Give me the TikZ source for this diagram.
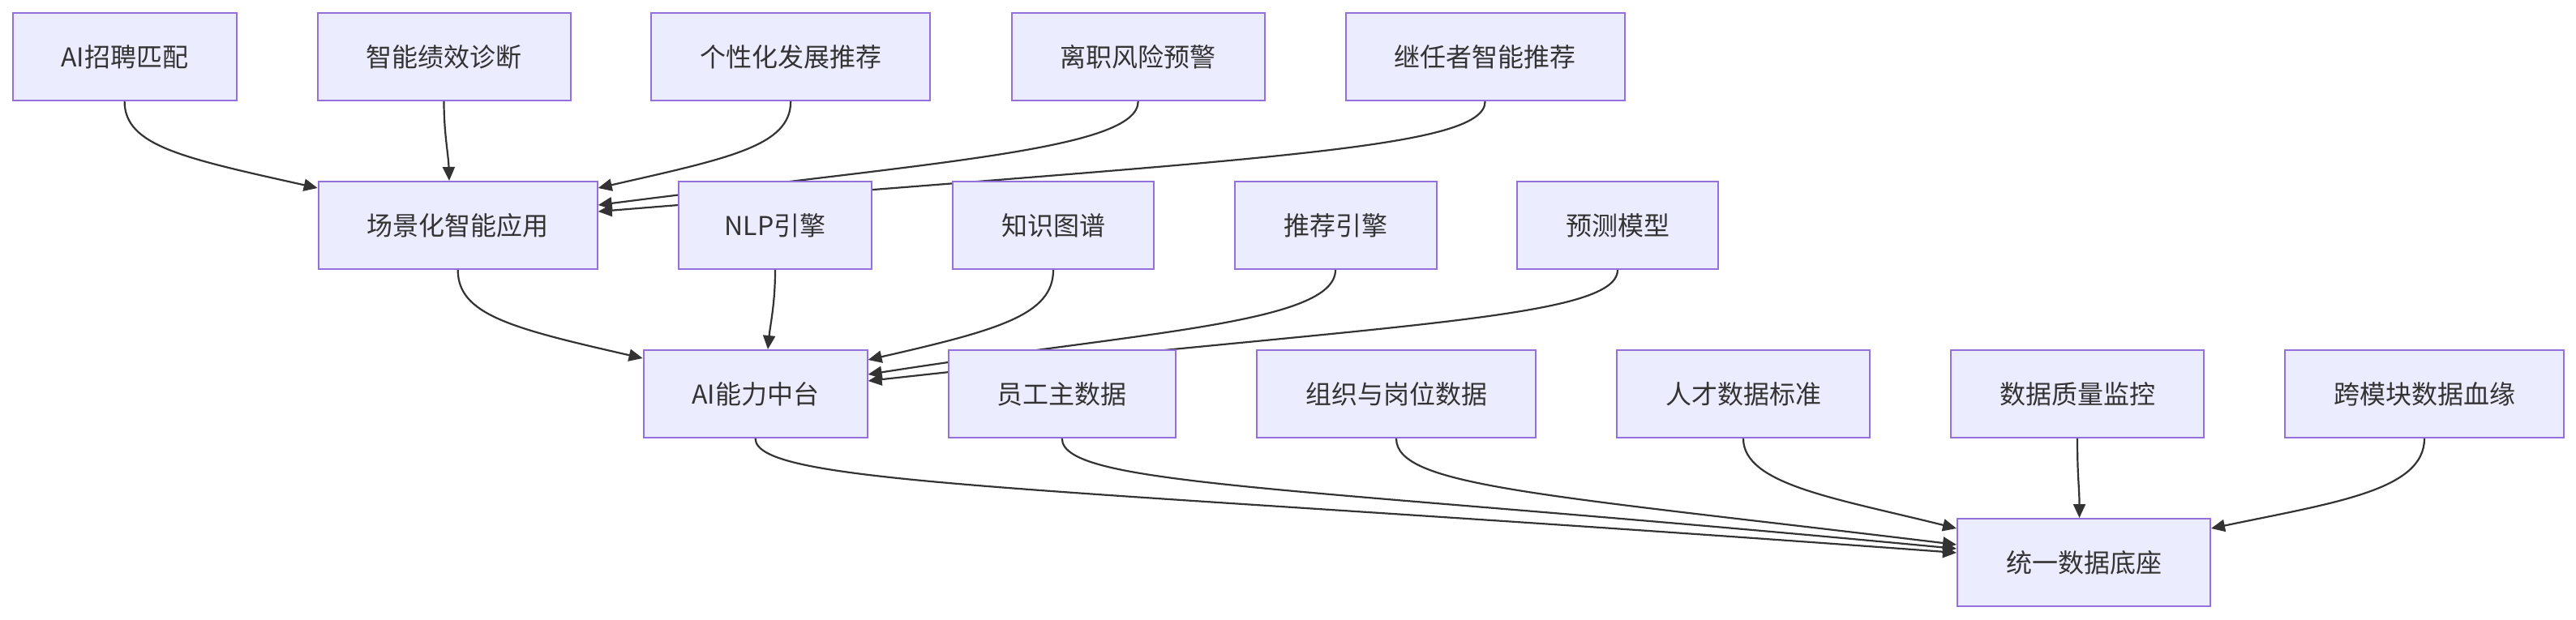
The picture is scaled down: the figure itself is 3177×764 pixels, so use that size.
\documentclass[tikz,border=0pt]{standalone}
\usepackage{fontspec}
\setmainfont{Noto Sans CJK SC}
\usetikzlibrary{arrows.meta,calc}
\definecolor{nodefill}{HTML}{ECECFF}
\definecolor{nodeborder}{HTML}{9370DB}
\definecolor{edgecol}{HTML}{333333}
\definecolor{textcol}{HTML}{333333}
\pgfdeclarelayer{edgelayer}
\pgfsetlayers{edgelayer,main}
\tikzset{
  box/.style={draw=nodeborder, fill=nodefill, line width=2pt, minimum height=108pt,
    inner sep=0pt, text=textcol, font=\fontsize{32pt}{38pt}\selectfont},
  link/.style={draw=edgecol, line width=2.2pt, -{Triangle[length=17pt,width=15pt]}}
}
\begin{document}
\begin{tikzpicture}[x=1pt,y=-1pt]
\useasboundingbox (0,0) rectangle (3177,764);
% row 1
\node[box, minimum width=276pt] (r1a) at (153.6,70) {AI招聘匹配};
\node[box, minimum width=312pt] (r1b) at (547.5,70) {智能绩效诊断};
\node[box, minimum width=344pt] (r1c) at (975.2,70) {个性化发展推荐};
\node[box, minimum width=312pt] (r1d) at (1403.7,70) {离职风险预警};
\node[box, minimum width=344pt] (r1e) at (1831.6,70) {继任者智能推荐};
% row 2
\node[box, minimum width=344pt] (S) at (564.7,278) {场景化智能应用};
\node[box, minimum width=238pt] (N) at (956,278) {NLP引擎};
\node[box, minimum width=248pt] (K) at (1299,278) {知识图谱};
\node[box, minimum width=249pt] (R) at (1647,278) {推荐引擎};
\node[box, minimum width=248pt] (P) at (1995,278) {预测模型};
% row 3
\node[box, minimum width=276pt] (A) at (931.6,486) {AI能力中台};
\node[box, minimum width=280pt] (E) at (1309.8,486) {员工主数据};
\node[box, minimum width=344pt] (O) at (1722,486) {组织与岗位数据};
\node[box, minimum width=312pt] (T) at (2150,486) {人才数据标准};
\node[box, minimum width=312pt] (Q) at (2562,486) {数据质量监控};
\node[box, minimum width=344pt] (X) at (2990,486) {跨模块数据血缘};
% row 4
\node[box, minimum width=312pt] (U) at (2570,694) {统一数据底座};

\begin{pgfonlayer}{edgelayer}
\draw[link] (r1a.south) .. controls (153.6,180) and (226,195) .. ([yshift=-9pt]S.north west);
\draw[link] (r1b.south) .. controls (547.5,165) and (553,190) .. ([xshift=-10.7pt]S.north);
\draw[link] (r1c.south) .. controls (975.2,180) and (900,195) .. ([yshift=-9pt]S.north east);
\draw[link] (r1d.south) .. controls (1403.7,185) and (1150,200) .. ([yshift=-30pt]S.north east);
\draw[link] (r1e.south) .. controls (1831.6,185) and (1550,195) .. ([yshift=-38pt]S.north east);

\draw[link] (S.south) .. controls (564.7,388) and (630,405) .. ([yshift=-11pt]A.north west);
\draw[link] (N.south) .. controls (956,375) and (950,400) .. ([xshift=15.4pt]A.north);
\draw[link] (K.south) .. controls (1299,388) and (1233,407) .. ([yshift=-13pt]A.north east);
\draw[link] (R.south) .. controls (1647,400) and (1400,410) .. ([yshift=-31pt]A.north east);
\draw[link] (P.south) .. controls (1995,395) and (1700,400) .. ([yshift=-39pt]A.north east);

\draw[link] (A.south) .. controls (931.6,600) and (1300,600) .. ([yshift=-43pt]U.north west);
\draw[link] (E.south) .. controls (1309.8,600) and (1600,600) .. ([yshift=-38pt]U.north west);
\draw[link] (O.south) .. controls (1722,600) and (1900,610) .. ([yshift=-33pt]U.north west);
\draw[link] (T.south) .. controls (2150,598) and (2265,615) .. ([yshift=-13pt]U.north west);
\draw[link] (Q.south) .. controls (2562,590) and (2564.5,600) .. ([xshift=-5.5pt]U.north);
\draw[link] (X.south) .. controls (2990,605) and (2880,620) .. ([yshift=-13pt]U.north east);
\end{pgfonlayer}
\end{tikzpicture}
\end{document}
